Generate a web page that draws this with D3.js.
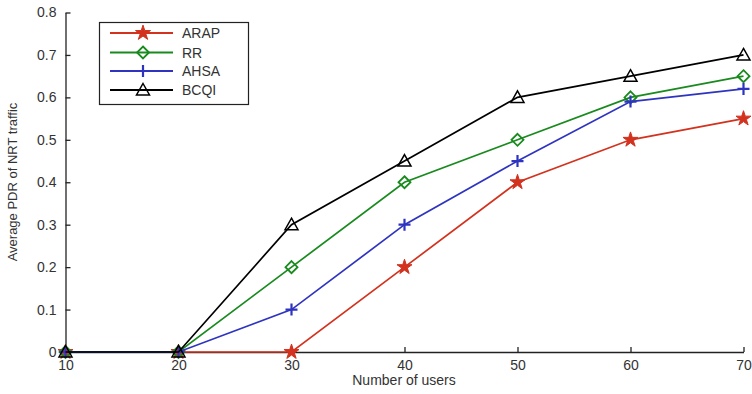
<!DOCTYPE html>
<html>
<head>
<meta charset="utf-8">
<script src="https://cdn.jsdelivr.net/npm/d3@7"></script>
<style>
  body { margin: 0; background: #fff; }
  text { font-family: "Liberation Sans", Arial, sans-serif; fill: #333; }
</style>
</head>
<body>
<div id="chart"></div>
<script>
// data
var users = [10, 20, 30, 40, 50, 60, 70];
var arap = [0, 0, 0, 0.2, 0.4, 0.5, 0.55];
var rr   = [0, 0, 0.2, 0.4, 0.5, 0.6, 0.65];
var ahsa = [0, 0, 0.1, 0.3, 0.45, 0.59, 0.62];
var bcqi = [0, 0, 0.3, 0.45, 0.6, 0.65, 0.7];
var seriesNames = ["ARAP", "RR", "AHSA", "BCQI"];
var yTicks = [0, 0.1, 0.2, 0.3, 0.4, 0.5, 0.6, 0.7, 0.8];

var colors = { ARAP: "#d2321e", RR: "#188a1e", AHSA: "#2e34c0", BCQI: "#000" };
var seriesData = { ARAP: arap, RR: rr, AHSA: ahsa, BCQI: bcqi };

var width = 752, height = 394;
var svg = d3.select("#chart").append("svg")
  .attr("width", width)
  .attr("height", height);

var x = d3.scaleLinear().domain([10, 70]).range([65.5, 743.5]);
var y = d3.scaleLinear().domain([0, 0.8]).range([352, 12.5]);

// axes (MATLAB style, ticks inward, no box)
var xAxis = d3.axisBottom(x).tickValues(users).tickSizeInner(-5).tickSizeOuter(0).tickPadding(8);
var yAxis = d3.axisLeft(y).tickValues(yTicks).tickSizeInner(-5).tickSizeOuter(0).tickPadding(9)
  .tickFormat(function(d) { return d === 0 ? "0" : d3.format(".1f")(d); });

var gx = svg.append("g").attr("transform", "translate(0," + y(0) + ")").call(xAxis);
var gy = svg.append("g").attr("transform", "translate(" + x(10) + ",0)").call(yAxis);
[gx, gy].forEach(function(g) {
  g.selectAll("path, line").attr("stroke", "#222").attr("stroke-width", 1.3);
  g.selectAll("text").style("font-size", "14px").attr("fill", "#333");
});

// axis titles
svg.append("text")
  .attr("x", 404).attr("y", 385)
  .attr("text-anchor", "middle")
  .style("font-size", "14px")
  .text("Number of users");

svg.append("text")
  .attr("transform", "translate(17," + 182 + ") rotate(-90)")
  .attr("text-anchor", "middle")
  .style("font-size", "13px")
  .text("Average PDR of NRT traffic");

// marker drawing
function drawMarker(g, name, cx, cy) {
  var c = colors[name];
  if (name == "ARAP") {
    g.append("path")
      .attr("d", d3.symbol().type(d3.symbolStar).size(70)())
      .attr("transform", "translate(" + cx + "," + cy + ")")
      .attr("fill", c).attr("stroke", c).attr("stroke-width", 1);
  } else if (name == "RR") {
    g.append("path")
      .attr("d", "M0,-6L6,0L0,6L-6,0Z")
      .attr("transform", "translate(" + cx + "," + cy + ")")
      .attr("fill", "none").attr("stroke", c).attr("stroke-width", 1.8);
  } else if (name == "AHSA") {
    g.append("path")
      .attr("d", "M-6,0H6M0,-6V6")
      .attr("transform", "translate(" + cx + "," + cy + ")")
      .attr("fill", "none").attr("stroke", c).attr("stroke-width", 2.2);
  } else {
    g.append("path")
      .attr("d", "M0,-6.5L6.5,5L-6.5,5Z")
      .attr("transform", "translate(" + cx + "," + cy + ")")
      .attr("fill", "none").attr("stroke", c).attr("stroke-width", 1.5);
  }
}

var line = d3.line()
  .x(function(d, i) { return x(users[i]); })
  .y(function(d) { return y(d); });

// draw series, red first so black sits on top at zero
for (let s = 0; s < seriesNames.length; s++) {
  var name = seriesNames[s];
  var g = svg.append("g");
  g.append("path")
    .attr("d", line(seriesData[name]))
    .attr("fill", "none")
    .attr("stroke", colors[name])
    .attr("stroke-width", 1.7);
  for (let i = 0; i < users.length; i++) {
    drawMarker(g, name, x(users[i]), y(seriesData[name][i]));
  }
}

// legend
var legend = svg.append("g");
legend.append("rect")
  .attr("x", 99.5).attr("y", 22.5)
  .attr("width", 149).attr("height", 82)
  .attr("fill", "#fff").attr("stroke", "#222").attr("stroke-width", 1.2);

var legendY = [33, 52.5, 71, 90];
for (let i = 0; i < seriesNames.length; i++) {
  var nm = seriesNames[i];
  legend.append("line")
    .attr("x1", 110).attr("x2", 173)
    .attr("y1", legendY[i]).attr("y2", legendY[i])
    .attr("stroke", colors[nm]).attr("stroke-width", 2);
  drawMarker(legend, nm, 143, legendY[i]);
  legend.append("text")
    .attr("x", 182).attr("y", legendY[i] + 5)
    .style("font-size", "14px")
    .text(nm);
}
</script>
</body>
</html>
